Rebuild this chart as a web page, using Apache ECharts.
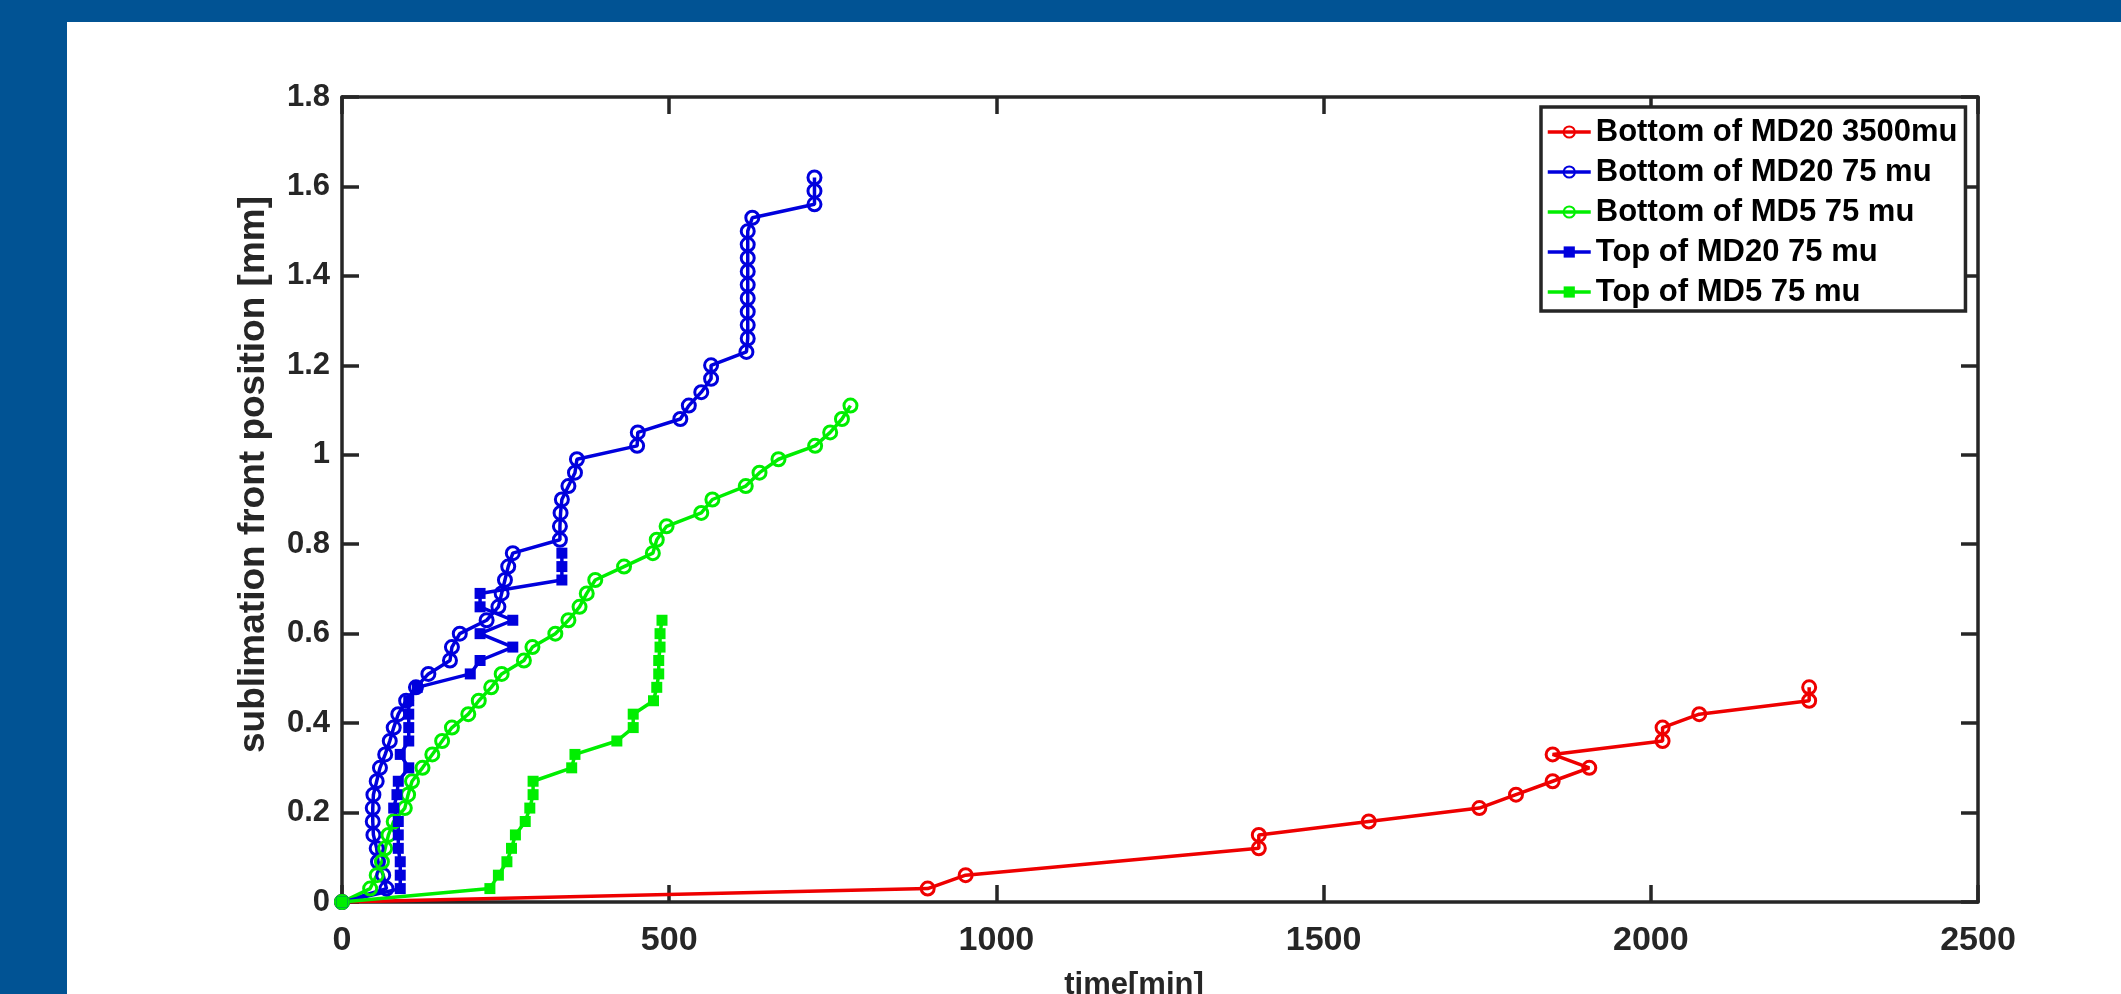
<!DOCTYPE html>
<html>
<head>
<meta charset="utf-8">
<script src="https://cdn.jsdelivr.net/npm/echarts@6/dist/echarts.min.js"></script>
<style>
  html, body { margin: 0; padding: 0; width: 2121px; height: 994px; overflow: hidden; background: #015394; }
  #panel { position: absolute; left: 67px; top: 22px; width: 2054px; height: 972px; background: #ffffff; }
  #chart { position: absolute; left: 0; top: 0; width: 2121px; height: 994px; }
</style>
</head>
<body>
<div id="panel"></div>
<div id="chart"></div>
<script>
// ---- data ----
const seriesNames = ['Bottom of MD20 3500mu', 'Bottom of MD20 75 mu', 'Bottom of MD5 75 mu', 'Top of MD20 75 mu', 'Top of MD5 75 mu'];

const redX = [0, 895, 953, 1401, 1401, 1569, 1738, 1794, 1850, 1906, 1850, 2018, 2018, 2074, 2242, 2242];
const redY = [0, 0.03, 0.06, 0.12, 0.15, 0.18, 0.21, 0.24, 0.27, 0.30, 0.33, 0.36, 0.39, 0.42, 0.45, 0.48];

const blueCircX = [0, 68, 63, 55, 53, 48, 47, 47, 48, 53, 58, 66, 73, 79, 86, 98, 113, 132, 165, 168,
  180, 221, 239, 244, 249, 254, 261, 333, 333, 334, 336, 346, 356, 359, 451, 452, 517, 530, 549, 564,
  564, 618, 620, 620, 620, 620, 620, 620, 620, 620, 620, 627, 722, 722, 722];
const blueCircY = [0, 0.03, 0.06, 0.09, 0.12, 0.15, 0.18, 0.21, 0.24, 0.27, 0.30, 0.33, 0.36, 0.39, 0.42, 0.45, 0.48, 0.51, 0.54, 0.57,
  0.60, 0.63, 0.66, 0.69, 0.72, 0.75, 0.78, 0.81, 0.84, 0.87, 0.90, 0.93, 0.96, 0.99, 1.02, 1.05, 1.08, 1.11, 1.14, 1.17,
  1.20, 1.23, 1.26, 1.29, 1.32, 1.35, 1.38, 1.41, 1.44, 1.47, 1.50, 1.53, 1.56, 1.59, 1.62];

const greenCircX = [0, 43, 53, 61, 66, 71, 79, 96, 101, 107, 123, 138, 153, 168, 193, 209, 228, 244, 278, 291,
  326, 346, 363, 374, 387, 431, 475, 481, 496, 549, 566, 617, 638, 667, 723, 746, 764, 777];
const greenCircY = [0, 0.03, 0.06, 0.09, 0.12, 0.15, 0.18, 0.21, 0.24, 0.27, 0.30, 0.33, 0.36, 0.39, 0.42, 0.45, 0.48, 0.51, 0.54, 0.57,
  0.60, 0.63, 0.66, 0.69, 0.72, 0.75, 0.78, 0.81, 0.84, 0.87, 0.90, 0.93, 0.96, 0.99, 1.02, 1.05, 1.08, 1.11];

const blueSqX = [0, 89, 89, 89, 86, 86, 86, 79, 84, 86, 102, 89, 102, 102, 102, 102, 115, 196, 211, 261, 211, 261, 211, 211, 336, 336, 336];
const blueSqY = [0, 0.03, 0.06, 0.09, 0.12, 0.15, 0.18, 0.21, 0.24, 0.27, 0.30, 0.33, 0.36, 0.39, 0.42, 0.45, 0.48, 0.51, 0.54, 0.57, 0.60, 0.63, 0.66, 0.69, 0.72, 0.75, 0.78];

const greenSqX = [0, 226, 239, 252, 259, 265, 280, 287, 292, 292, 351, 356, 420, 445, 445, 476, 481, 484, 484, 486, 486, 489];
const greenSqY = [0, 0.03, 0.06, 0.09, 0.12, 0.15, 0.18, 0.21, 0.24, 0.27, 0.30, 0.33, 0.36, 0.39, 0.42, 0.45, 0.48, 0.51, 0.54, 0.57, 0.60, 0.63];

const xTicks = { min: 0, max: 2500, interval: 500 };
const yTicks = { min: 0, max: 1.8, interval: 0.2 };

// ---- chart ----
const zip = (xs, ys) => xs.map((x, i) => [x, ys[i]]);
const AX = '#262626';
const FONT = 'Liberation Sans, Arial, sans-serif';

function circSeries(name, color, xs, ys) {
  return {
    name, type: 'line', data: zip(xs, ys),
    symbol: 'circle', symbolSize: 13,
    lineStyle: { color, width: 3.5 },
    itemStyle: { color: 'rgba(255,255,255,0)', borderColor: color, borderWidth: 3 },
    emphasis: { disabled: true }, animation: false
  };
}
function sqSeries(name, color, xs, ys) {
  return {
    name, type: 'line', data: zip(xs, ys),
    symbol: 'rect', symbolSize: 11,
    lineStyle: { color, width: 3.5 },
    itemStyle: { color, borderWidth: 0 },
    emphasis: { disabled: true }, animation: false
  };
}

const chart = echarts.init(document.getElementById('chart'), null, { renderer: 'canvas' });
const axisLineStyle = { show: true, onZero: false, lineStyle: { color: AX, width: 3.5 } };
const axisTickStyle = { show: true, inside: true, length: 17, lineStyle: { color: AX, width: 3.5 } };

chart.setOption({
  backgroundColor: 'transparent',
  animation: false,
  grid: { left: 342, top: 97, width: 1636, height: 805, containLabel: false, outerBoundsMode: 'none' },
  legend: {
    orient: 'vertical', left: 1541, top: 107,
    padding: [9, 8, 3, 5], itemGap: 8, itemWidth: 43, itemHeight: 14,
    backgroundColor: '#ffffff', borderColor: AX, borderWidth: 3.5,
    lineStyle: { width: 3.5 },
    textStyle: { fontFamily: FONT, fontWeight: 'bold', fontSize: 31, color: '#000', lineHeight: 32 },
    data: seriesNames
  },
  xAxis: [
    {
      type: 'value', min: xTicks.min, max: xTicks.max, interval: xTicks.interval,
      name: 'time[min]', nameLocation: 'middle', nameGap: 68,
      nameTextStyle: { fontFamily: FONT, fontWeight: 'bold', fontSize: 31, color: AX, padding: [0, 52, 0, 0] },
      axisLine: axisLineStyle, axisTick: axisTickStyle, splitLine: { show: false },
      axisLabel: { fontFamily: FONT, fontWeight: 'bold', fontSize: 34, color: AX, margin: 22,
        formatter: v => String(v) }
    },
    {
      type: 'value', position: 'top', min: xTicks.min, max: xTicks.max, interval: xTicks.interval,
      axisLine: axisLineStyle, axisTick: axisTickStyle, splitLine: { show: false },
      axisLabel: { show: false }
    }
  ],
  yAxis: [
    {
      type: 'value', min: yTicks.min, max: yTicks.max, interval: yTicks.interval,
      name: 'sublimation front position [mm]', nameLocation: 'middle', nameRotate: 90, nameGap: 70,
      nameTextStyle: { fontFamily: FONT, fontWeight: 'bold', fontSize: 37, color: AX, padding: [0, 0, 0, 50] },
      axisLine: axisLineStyle, axisTick: axisTickStyle, splitLine: { show: false },
      axisLabel: { fontFamily: FONT, fontWeight: 'bold', fontSize: 31, color: AX, margin: 12 }
    },
    {
      type: 'value', position: 'right', min: yTicks.min, max: yTicks.max, interval: yTicks.interval,
      axisLine: axisLineStyle, axisTick: axisTickStyle, splitLine: { show: false },
      axisLabel: { show: false }
    }
  ],
  series: [
    circSeries(seriesNames[0], '#ee0000', redX, redY),
    circSeries(seriesNames[1], '#0000dd', blueCircX, blueCircY),
    circSeries(seriesNames[2], '#00ee00', greenCircX, greenCircY),
    sqSeries(seriesNames[3], '#0000dd', blueSqX, blueSqY),
    sqSeries(seriesNames[4], '#00ee00', greenSqX, greenSqY)
  ]
});
</script>
</body>
</html>
